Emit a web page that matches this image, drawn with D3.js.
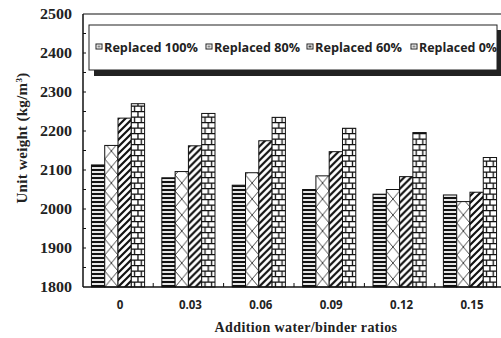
<!DOCTYPE html>
<html><head><meta charset="utf-8">
<script src="https://cdn.jsdelivr.net/npm/d3@7/dist/d3.min.js"></script>
<style>
html,body{margin:0;padding:0;background:#fff;}
svg{display:block;}
</style></head>
<body>
<svg id="chart" width="501" height="338"></svg>
<script>
const categories = ["0", "0.03", "0.06", "0.09", "0.12", "0.15"];
const seriesNames = ["Replaced 100%", "Replaced 80%", "Replaced 60%", "Replaced 0%"];
const replaced100 = [2113, 2080, 2061, 2050, 2038, 2036];
const replaced80  = [2163, 2096, 2093, 2085, 2050, 2019];
const replaced60  = [2233, 2162, 2175, 2147, 2083, 2043];
const replaced0   = [2270, 2245, 2235, 2207, 2196, 2132];
const yTicks = [1800, 1900, 2000, 2100, 2200, 2300, 2400, 2500];
const seriesValues = [replaced100, replaced80, replaced60, replaced0];

const svg = d3.select("#chart");
const L = 83, R = 505, T = 14, B = 287;

const y = d3.scaleLinear().domain([1800, 2500]).range([B, T]);
const x0 = d3.scaleBand().domain(categories).range([L, R]).paddingInner(0.245).paddingOuter(0.12);
const x1 = d3.scaleBand().domain(d3.range(4)).range([0, x0.bandwidth()]);
const bw = x1.bandwidth();

const defs = svg.append("defs");
const bars = [];
categories.forEach((c, ci) => {
  seriesValues.forEach((vals, si) => {
    bars.push({c, ci, si, v: vals[ci], x: x0(c) + x1(si)});
  });
});

function makePattern(id, si, ox) {
  if (si === 0) {
    const p = defs.append("pattern").attr("id", id).attr("patternUnits", "userSpaceOnUse")
      .attr("x", ox).attr("y", 0).attr("width", 10).attr("height", 4);
    p.append("rect").attr("width", 10).attr("height", 4).attr("fill", "#fff");
    p.append("rect").attr("y", 0.9).attr("width", 10).attr("height", 2.2).attr("fill", "#111");
  } else if (si === 1) {
    const w = bw, h = 16;
    const p = defs.append("pattern").attr("id", id).attr("patternUnits", "userSpaceOnUse")
      .attr("x", ox).attr("y", B).attr("width", w).attr("height", h);
    p.append("rect").attr("width", w).attr("height", h).attr("fill", "#fff");
    p.append("path").attr("d", `M0,0L${w},${h}M${w},0L0,${h}`).attr("stroke", "#333").attr("stroke-width", 0.9).attr("fill", "none");
  } else if (si === 2) {
    const s = 7;
    const p = defs.append("pattern").attr("id", id).attr("patternUnits", "userSpaceOnUse")
      .attr("x", ox).attr("y", 0).attr("width", s).attr("height", s);
    p.append("rect").attr("width", s).attr("height", s).attr("fill", "#fff");
    p.append("path").attr("d", `M-1,${s + 1}L${s + 1},-1M-${s/2 + 1},${s/2 + 1}L${s/2 + 1},-${s/2 + 1}M${s/2 - 1},${s * 1.5 + 1}L${s * 1.5 + 1},${s/2 - 1}`)
      .attr("stroke", "#111").attr("stroke-width", 2.2).attr("fill", "none");
  } else {
    const w = bw, h = 11;
    const p = defs.append("pattern").attr("id", id).attr("patternUnits", "userSpaceOnUse")
      .attr("x", ox).attr("y", B).attr("width", w).attr("height", h);
    p.append("rect").attr("width", w).attr("height", h).attr("fill", "#fff");
    p.append("path").attr("d", `M0,0.6H${w}M0,6.1H${w}M${w/2},0.6V6.1M${w*0.25},6.1V11M${w*0.75},6.1V11`)
      .attr("stroke", "#111").attr("stroke-width", 1.3).attr("fill", "none");
  }
}
bars.forEach((b, i) => { b.pid = "p" + i; makePattern(b.pid, b.si, b.x); });

svg.selectAll("rect.bar").data(bars).join("rect").attr("class", "bar")
  .attr("x", d => d.x).attr("y", d => y(d.v))
  .attr("width", bw).attr("height", d => B - y(d.v))
  .attr("fill", d => `url(#${d.pid})`)
  .attr("stroke", "#111").attr("stroke-width", 1);

svg.append("line").attr("x1", L).attr("x2", R).attr("y1", T).attr("y2", T).attr("stroke", "#111").attr("stroke-width", 1.2);
svg.append("line").attr("x1", L).attr("x2", L).attr("y1", T).attr("y2", B).attr("stroke", "#111").attr("stroke-width", 1.5);
svg.append("line").attr("x1", L).attr("x2", R).attr("y1", B).attr("y2", B).attr("stroke", "#111").attr("stroke-width", 1.5);

const minor = d3.range(1850, 2500, 50);
svg.selectAll("line.mt").data(minor).join("line").attr("class", "mt")
  .attr("x1", L).attr("x2", L + 3).attr("y1", d => y(d)).attr("y2", d => y(d))
  .attr("stroke", "#111").attr("stroke-width", 1);

const seps = categories.slice(1).map(c => x0(c) - x0.step() * x0.paddingInner() / 2);
svg.selectAll("line.st").data(seps).join("line").attr("class", "st")
  .attr("x1", d => d).attr("x2", d => d).attr("y1", B).attr("y2", B - 4)
  .attr("stroke", "#111").attr("stroke-width", 1);

svg.selectAll("text.yt").data(yTicks).join("text").attr("class", "yt")
  .attr("x", 72).attr("y", d => y(d)).attr("dy", "0.36em")
  .attr("text-anchor", "end")
  .attr("font-family", "Liberation Serif, serif").attr("font-weight", "bold").attr("font-size", 14)
  .attr("textLength", 32).attr("lengthAdjust", "spacingAndGlyphs")
  .attr("fill", "#222").text(d => d);

svg.selectAll("text.xt").data(categories).join("text").attr("class", "xt")
  .attr("x", d => x0(d) + x0.bandwidth() / 2 + 2).attr("y", 309)
  .attr("text-anchor", "middle")
  .style("font-family", "'Open Sans', 'Liberation Sans', sans-serif").attr("font-weight", "bold").attr("font-size", 11.5)
  .attr("fill", "#222").text(d => d);

svg.append("text").attr("x", 306).attr("y", 332).attr("text-anchor", "middle")
  .attr("font-family", "Liberation Serif, serif").attr("font-weight", "bold").attr("font-size", 14)
  .attr("letter-spacing", 0.4)
  .attr("fill", "#222").text("Addition water/binder ratios");

const yt = svg.append("text").attr("transform", "translate(27,138) rotate(-90)").attr("text-anchor", "middle")
  .attr("font-family", "Liberation Serif, serif").attr("font-weight", "bold").attr("font-size", 15)
  .attr("letter-spacing", 0.3)
  .attr("fill", "#222");
yt.append("tspan").text("Unit weight (kg/m");
yt.append("tspan").attr("font-size", 9).attr("dy", -5).text("3");
yt.append("tspan").attr("dy", 5).text(")");

const lg = svg.append("g");
lg.append("rect").attr("x", 94).attr("y", 30).attr("width", 407).attr("height", 46).attr("fill", "#222");
lg.append("rect").attr("x", 89).attr("y", 25).attr("width", 408).attr("height", 45).attr("fill", "#fff").attr("stroke", "#222").attr("stroke-width", 1);
const lgX = [96, 206, 307, 411];
const lgW = [94, 86, 87, 78];
seriesNames.forEach((n, i) => {
  lg.append("rect").attr("x", lgX[i]).attr("y", 44).attr("width", 6).attr("height", 5)
    .attr("fill", "#fff").attr("stroke", "#222").attr("stroke-width", 1);
  lg.append("rect").attr("x", lgX[i] + 1.5).attr("y", 45.5).attr("width", 3).attr("height", 2)
    .attr("fill", i === 2 ? "#444" : "#888");
  lg.append("text").attr("x", lgX[i] + 8).attr("y", 52)
    .style("font-family", "'Open Sans', 'Liberation Sans', sans-serif").attr("font-weight", "bold").attr("font-size", 12.5)
    .attr("textLength", lgW[i]).attr("lengthAdjust", "spacingAndGlyphs")
    .attr("fill", "#222").text(n);
});
</script>
</body></html>
